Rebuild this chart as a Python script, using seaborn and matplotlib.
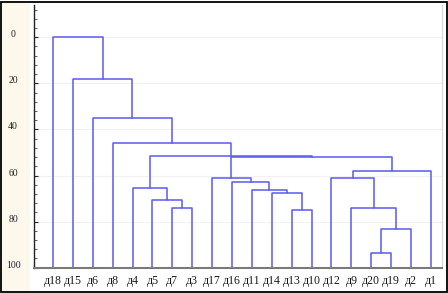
import matplotlib
matplotlib.use("Agg")
import matplotlib.pyplot as plt
from matplotlib.patches import Rectangle
from matplotlib.ticker import MultipleLocator
import seaborn as sns
import pandas as pd

# ---- data ----
leaves = ["д18", "д15", "д6", "д8", "д4", "д5", "д7", "д3", "д17", "д16",
          "д11", "д14", "д13", "д10", "д12", "д9", "д20", "д19", "д2", "д1"]
# linkage-like: node ids 0..19 are leaves, new clusters get ids 20, 21, ...
merge_left = [16, 20, 12, 6, 15, 5, 11, 10, 4, 9, 8, 14, 31, 30, 28, 3, 2, 1, 0]
merge_right = [17, 18, 13, 7, 21, 23, 22, 26, 25, 27, 29, 24, 19, 32, 33, 34, 35, 36, 37]
merge_height = [93.8, 83.1, 75.0, 74.0, 74.0, 70.6, 67.4, 66.3, 65.5, 62.9,
                60.9, 60.9, 57.9, 52.1, 51.4, 45.9, 35.2, 18.2, 0.0]
y_ticks = [0, 20, 40, 60, 80, 100]

# ---- build dendrogram segments ----
n = len(leaves)
pos = {i: float(i) for i in range(n)}
hgt = {i: 100.0 for i in range(n)}
rows = []
for k, (a, b, h) in enumerate(zip(merge_left, merge_right, merge_height)):
    node = n + k
    xs = [pos[a], pos[a], pos[b], pos[b]]
    ys = [hgt[a], h, h, hgt[b]]
    for j, (xx, yy) in enumerate(zip(xs, ys)):
        rows.append({"link": k, "order": j, "x": xx, "y": yy})
    pos[node] = (pos[a] + pos[b]) / 2
    hgt[node] = h
df = pd.DataFrame(rows)

sns.set_theme(style="white")
plt.rcParams["font.family"] = ["Liberation Serif", "DejaVu Serif"]

fig = plt.figure(figsize=(4.48, 2.93), dpi=100)
fig.patch.set_facecolor("white")
# cream band on the left (behind everything)
band = Rectangle((2 / 448, 2 / 293), 28 / 448, 289 / 293,
                 transform=fig.transFigure, facecolor="#fdf8ec",
                 edgecolor="none", zorder=-5)
fig.patches.append(band)

ax = fig.add_axes([34 / 448, 25.3 / 293, (441.7 - 34) / 448, (288 - 25.3) / 293])
ax.set_facecolor("none")
ax.set_zorder(2)

sns.lineplot(data=df, x="x", y="y", units="link", estimator=None, sort=False,
             color="#5a5af0", lw=1.1, ax=ax, legend=False)

ax.set_xlim(-0.955, 19.54)
ax.set_ylim(100, -14)
ax.set_xlabel("")
ax.set_ylabel("")

ax.set_xticks(range(n))
ax.set_xticklabels(leaves, fontsize=8.5, color="#1a1a1a")
ax.tick_params(axis="x", length=0, pad=5)

ax.set_yticks(y_ticks)
ax.set_yticklabels([str(v) for v in y_ticks], fontsize=7, color="#222222",
                   ha="center", va="baseline")
ax.yaxis.set_minor_locator(MultipleLocator(4))
ax.tick_params(axis="y", which="major", direction="in", length=3, width=0.8,
               color="#222222", pad=15, left=True)
ax.tick_params(axis="y", which="minor", direction="in", length=2, width=0.6,
               color="#444444", left=True)
ax.yaxis.grid(True, which="major", color="#f1f1f1", lw=0.8)
ax.set_axisbelow(True)

ax.spines["top"].set_visible(False)
ax.spines["left"].set_color("#222222")
ax.spines["left"].set_linewidth(1.0)
ax.spines["bottom"].set_color("#7a7a7a")
ax.spines["bottom"].set_linewidth(1.5)
ax.spines["right"].set_color("#d6d6d6")
ax.spines["right"].set_linewidth(0.8)

# black frame around the image
fig.patches.append(Rectangle((0.5 / 448, 1.5 / 293), 446.5 / 448, 290 / 293,
                             transform=fig.transFigure, facecolor="none",
                             edgecolor="black", lw=1.3, zorder=10))

fig.savefig("out.png", dpi=100)
